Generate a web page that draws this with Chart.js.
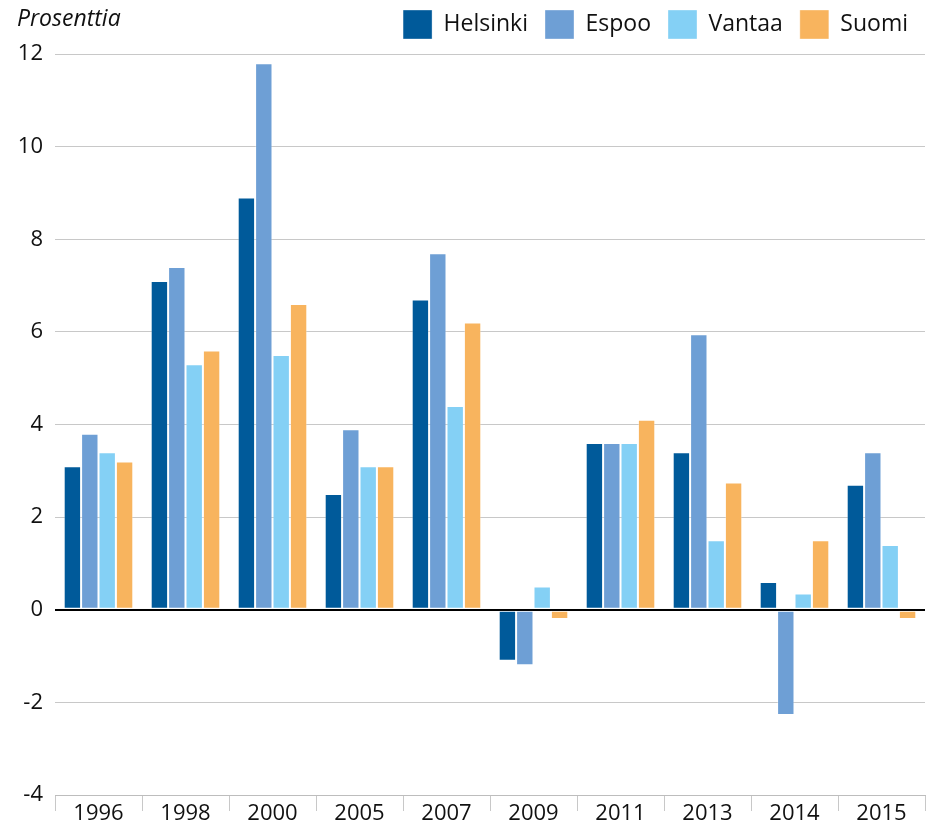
<!DOCTYPE html>
<html>
<head>
<meta charset="utf-8">
<script src="https://cdn.jsdelivr.net/npm/chart.js@4/dist/chart.umd.min.js"></script>
<style>
    html, body { margin: 0; padding: 0; background: #fff; overflow: hidden; }
    #wrap { width: 935px; height: 825px; position: relative; }
</style>
</head>
<body>
<div id="wrap"><canvas id="barChart"></canvas></div>
<script>
    const years = ['1996', '1998', '2000', '2005', '2007', '2009', '2011', '2013', '2014', '2015']
    const helsinki = [3.1, 7.1, 8.9, 2.5, 6.7, -1.1, 3.6, 3.4, 0.6, 2.7]
    const espoo = [3.8, 7.4, 11.8, 3.9, 7.7, -1.2, 3.6, 5.95, -2.27, 3.4]
    const vantaa = [3.4, 5.3, 5.5, 3.1, 4.4, 0.5, 3.6, 1.5, 0.35, 1.4]
    const suomi = [3.2, 5.6, 6.6, 3.1, 6.2, -0.2, 4.1, 2.75, 1.5, -0.2]
    const yTicks = [-4, -2, 0, 2, 4, 6, 8, 10, 12]

    const font = 'Open Sans'

    // "Prosenttia" above the y axis
    const unitLabel = {
        id: 'unitLabel',
        afterDraw(chart) {
            const ctx = chart.ctx
            ctx.save()
            ctx.font = 'italic 23px "' + font + '"'
            ctx.fillStyle = '#111'
            ctx.textBaseline = 'middle'
            ctx.fillText('Prosenttia', 17, 19)
            ctx.restore()
        }
    }

    // room under the legend
    const legendMargin = {
        id: 'legendMargin',
        beforeInit(chart) {
            const fit = chart.legend.fit
            chart.legend.fit = function () {
                fit.bind(chart.legend)()
                this.height += 5
            }
        }
    }

    const makeSet = (label, data, color) => ({
        label: label,
        data: data,
        backgroundColor: color,
        borderColor: 'rgba(255,255,255,0.35)',
        borderWidth: 1,
        borderSkipped: false,
        categoryPercentage: 0.8,
        barPercentage: 1.0
    })

    const ctx = document.getElementById('barChart').getContext('2d')
    const myBarChart = new Chart(ctx, {
        type: 'bar',
        data: {
            labels: years,
            datasets: [
                makeSet('Helsinki', helsinki, '#005A9A'),
                makeSet('Espoo', espoo, '#6E9FD5'),
                makeSet('Vantaa', vantaa, '#84D0F5'),
                makeSet('Suomi', suomi, '#F8B45E')
            ]
        },
        options: {
            responsive: true,
            maintainAspectRatio: false,
            animation: false,
            layout: {padding: {left: 18, right: 10, top: -7, bottom: 0}},
            plugins: {
                tooltip: {enabled: false},
                legend: {
                    position: 'top',
                    align: 'end',
                    labels: {
                        boxWidth: 29,
                        boxHeight: 29,
                        padding: 17,
                        color: '#111',
                        font: {family: font, size: 23}
                    }
                }
            },
            scales: {
                x: {
                    afterFit: axis => { axis.height = 30 },
                    grid: {
                        offset: true,
                        drawOnChartArea: false,
                        drawTicks: true,
                        tickLength: 16,
                        color: '#c8c8c8'
                    },
                    border: {color: '#bdbdbd', width: 1},
                    ticks: {
                        color: '#111',
                        padding: -10,
                        font: {family: font, size: 22}
                    }
                },
                y: {
                    min: -4,
                    max: 12,
                    afterFit: axis => { axis.width = 37 },
                    afterBuildTicks: axis => {
                        axis.ticks = yTicks.map(v => ({value: v}))
                    },
                    grid: {
                        drawTicks: false,
                        color: c => c.tick && c.tick.value === 0 ? '#000' : '#c8c8c8',
                        lineWidth: c => c.tick && c.tick.value === 0 ? 2 : 1
                    },
                    border: {display: false},
                    ticks: {
                        color: '#111',
                        padding: 12,
                        font: {family: font, size: 22}
                    }
                }
            }
        },
        plugins: [unitLabel, legendMargin]
    })
</script>
</body>
</html>
